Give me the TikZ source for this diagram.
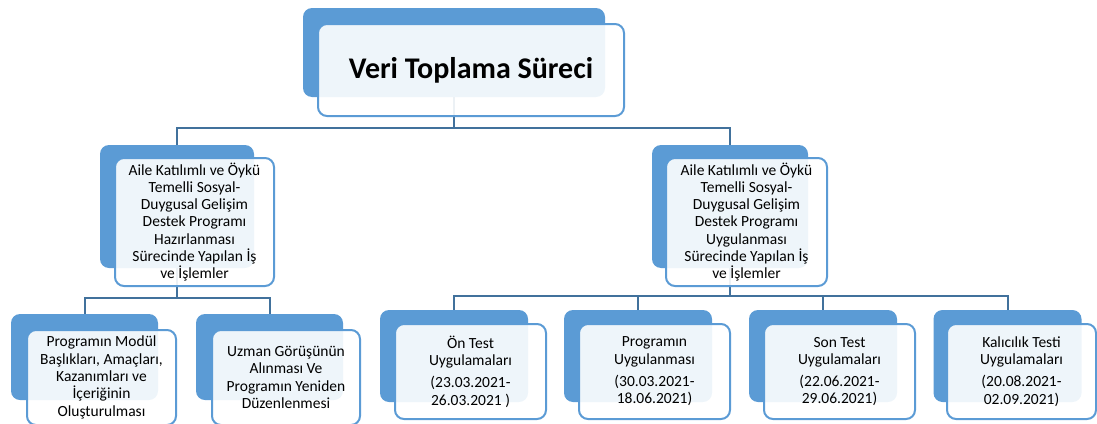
\documentclass[tikz,border=0pt]{standalone}
\usepackage{fontspec}
\setmainfont{Carlito}
\usetikzlibrary{positioning}
\definecolor{myfilltikz}{RGB}{91,155,213}
\definecolor{mylinetikz}{RGB}{65,113,156}
\tikzset{
  backbox/.style = {rectangle, rounded corners=9pt, fill=myfilltikz, draw=none, inner sep=0pt},
  frontbox/.style = {rectangle, rounded corners=9pt, fill=white, fill opacity=.9, text opacity=1,
                     draw=myfilltikz, line width=2pt, align=center, inner sep=0pt,
                     font=\fontsize{15.5}{17.3}\selectfont},
  link/.style = {draw=mylinetikz, line width=2pt}
}

\begin{document}
\begin{tikzpicture}[x=1pt, y=-1pt]
\useasboundingbox (0,0) rectangle (1097,423);
\clip (0,0) rectangle (1097,423);

% back boxes
\node[backbox, minimum width=302, minimum height=89] (top) at (454,52.5) {};
\node[backbox, minimum width=154, minimum height=123] (midL) at (177,206.5) {};
\node[backbox, minimum width=156, minimum height=123] (midR) at (730,206.5) {};
\node[backbox, minimum width=147, minimum height=86] (bl1) at (84.5,357) {};
\node[backbox, minimum width=147, minimum height=86] (bl2) at (269.5,357) {};
\node[backbox, minimum width=148, minimum height=92] (br1) at (454,356) {};
\node[backbox, minimum width=148, minimum height=92] (br2) at (638,356) {};
\node[backbox, minimum width=148, minimum height=92] (br3) at (823,356) {};
\node[backbox, minimum width=148, minimum height=92] (br4) at (1007.5,356) {};

% connectors
\draw[link] (top.south) -- ++(0,31) -| (midL.north);
\draw[link] (top.south) -- ++(0,31) -| (midR.north);
\draw[link] (midL.south) -- ++(0,30) -| (bl1.north);
\draw[link] (midL.south) -- ++(0,30) -| (bl2.north);
\draw[link] (midR.south) -- ++(0,28) -| (br1.north);
\draw[link] (midR.south) -- ++(0,28) -| (br2.north);
\draw[link] (midR.south) -- ++(0,28) -| (br3.north);
\draw[link] (midR.south) -- ++(0,28) -| (br4.north);

% front boxes
\node[frontbox, minimum width=306, minimum height=92,
      font=\fontsize{30}{34}\selectfont\bfseries] (topF) at (471,70) {Veri Toplama Süreci};
\node[frontbox, minimum width=159, minimum height=128] (midLF) at (194.5,222) {%
  Aile Katılımlı ve Öykü\\Temelli Sosyal-\\Duygusal Gelişim\\Destek Programı\\%
  Hazırlanması\\Sürecinde Yapılan İş\\ve İşlemler};
\node[frontbox, minimum width=161, minimum height=128] (midRF) at (746.5,222) {%
  Aile Katılımlı ve Öykü\\Temelli Sosyal-\\Duygusal Gelişim\\Destek Programı\\%
  Uygulanması\\Sürecinde Yapılan İş\\ve İşlemler};
\node[frontbox, minimum width=149, minimum height=95] (bl1F) at (101.5,377.5) {%
  Programın Modül\\Başlıkları, Amaçları,\\Kazanımları ve\\İçeriğinin\\Oluşturulması};
\node[frontbox, minimum width=148, minimum height=95] (bl2F) at (286,377.5) {%
  Uzman Görüşünün\\Alınması Ve\\Programın Yeniden\\Düzenlenmesi};
\node[frontbox, minimum width=151, minimum height=95] (br1F) at (470.5,371.5) {%
  Ön Test\\Uygulamaları\\[5pt](23.03.2021-\\26.03.2021 )};
\node[frontbox, minimum width=151, minimum height=95] (br2F) at (654.5,371.5) {%
  Programın\\Uygulanması\\[5pt](30.03.2021-\\18.06.2021)};
\node[frontbox, minimum width=151, minimum height=95] (br3F) at (839.5,371.5) {%
  Son Test\\Uygulamaları\\[5pt](22.06.2021-\\29.06.2021)};
\node[frontbox, minimum width=149, minimum height=95] (br4F) at (1021.5,371.5) {%
  Kalıcılık Testi\\Uygulamaları\\[5pt](20.08.2021-\\02.09.2021)};
\end{tikzpicture}
\end{document}
